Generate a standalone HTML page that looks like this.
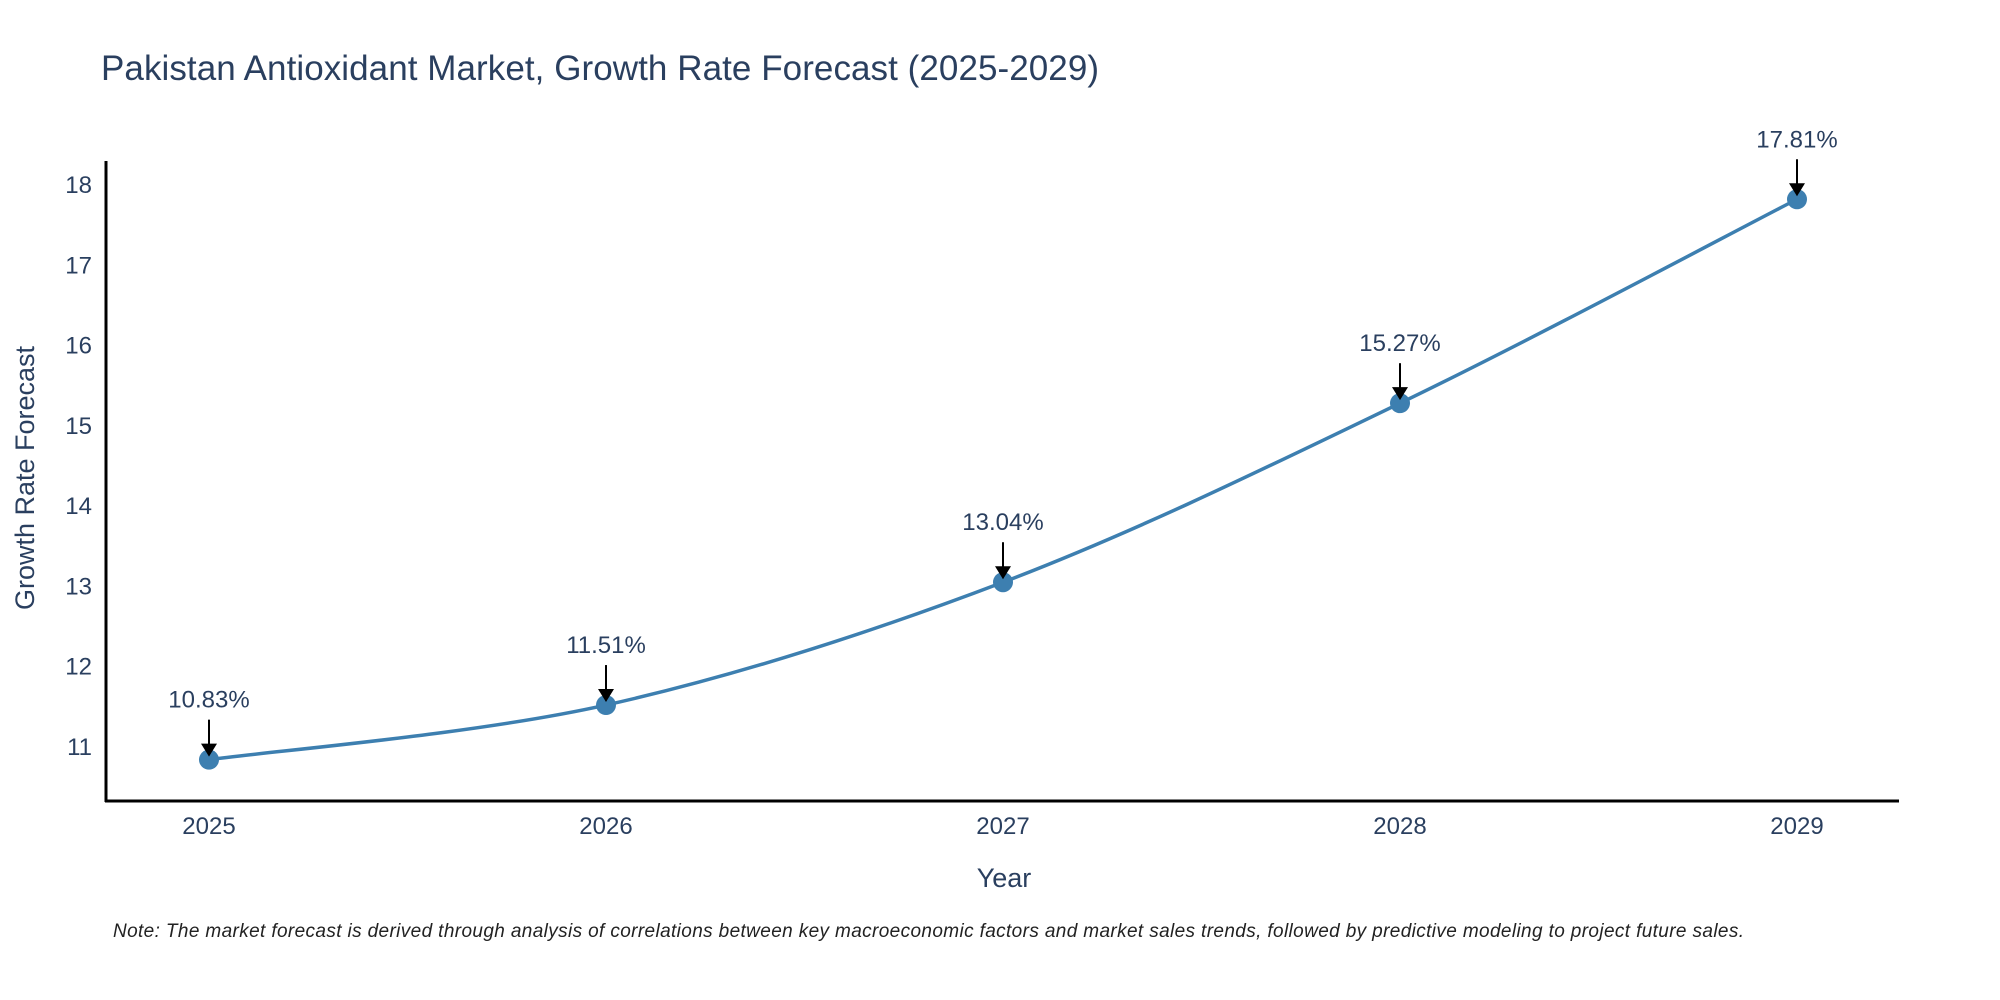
<!DOCTYPE html>
<html><head><meta charset="utf-8"><style>
body{margin:0;background:#fff;}
svg{display:block;font-family:"Liberation Sans",sans-serif;}
</style></head><body>
<svg id="chart" width="2000" height="1000" viewBox="0 0 2000 1000">
<text x="101" y="80" font-size="35" fill="#2a3f5f" textLength="998">Pakistan Antioxidant Market, Growth Rate Forecast (2025-2029)</text>
<g id="yticks"></g>
<g id="xticks"></g>
<path id="line" fill="none" stroke="#3d7fb0" stroke-width="3.5"></path>
<g id="points"></g>
<line x1="106" y1="161" x2="106" y2="802" stroke="#000" stroke-width="3"/>
<line x1="105" y1="801" x2="1899" y2="801" stroke="#000" stroke-width="3"/>
<text transform="translate(34,478) rotate(-90)" text-anchor="middle" font-size="27" fill="#2a3f5f">Growth Rate Forecast</text>
<text x="1004" y="887" text-anchor="middle" font-size="27" fill="#2a3f5f">Year</text>
<text x="113" y="937" font-size="19" font-style="italic" fill="#222" textLength="1631">Note: The market forecast is derived through analysis of correlations between key macroeconomic factors and market sales trends, followed by predictive modeling to project future sales.</text>
</svg>
<script>
const years = [2025, 2026, 2027, 2028, 2029];
const values = [10.83, 11.51, 13.04, 15.27, 17.81];
const labels = ["10.83%", "11.51%", "13.04%", "15.27%", "17.81%"];
const yTicks = [11, 12, 13, 14, 15, 16, 17, 18];
const NS = "http://www.w3.org/2000/svg";
function xs(v){ return 209 + (v - 2025) * (1797 - 209) / 4; }
function ys(v){ return 746 - (v - 11) * (746 - 184) / 7; }
function mk(tag, attrs, parent, text){
  const e = document.createElementNS(NS, tag);
  for (const k in attrs) e.setAttribute(k, attrs[k]);
  if (text !== undefined) e.textContent = text;
  parent.appendChild(e); return e;
}
const yg = document.getElementById('yticks');
yTicks.forEach(t => {
  const e = mk('text', {x: 92, y: ys(t) + 9, 'text-anchor': 'end', 'font-size': 24, fill: '#2a3f5f'}, yg, String(t));
  
  
});
const xg = document.getElementById('xticks');
years.forEach(t => {
  const e = mk('text', {x: xs(t), y: 834, 'text-anchor': 'middle', 'font-size': 24, fill: '#2a3f5f'}, xg, String(t));
  
  
});
const pts = years.map((y, i) => [xs(y), ys(values[i])]);
let d = 'M' + pts[0][0] + ',' + pts[0][1];
for (let i = 0; i < pts.length - 1; i++) {
  const p0 = pts[Math.max(0, i - 1)], p1 = pts[i], p2 = pts[i + 1], p3 = pts[Math.min(pts.length - 1, i + 2)];
  const c1 = [p1[0] + (p2[0] - p0[0]) / 6, p1[1] + (p2[1] - p0[1]) / 6];
  const c2 = [p2[0] - (p3[0] - p1[0]) / 6, p2[1] - (p3[1] - p1[1]) / 6];
  d += ' C' + c1 + ' ' + c2 + ' ' + p2;
}
document.getElementById('line').setAttribute('d', d);
const pg = document.getElementById('points');
pts.forEach((p, i) => {
  const c = mk('circle', {cx: p[0], cy: p[1], r: 10, fill: '#3d7fb0'}, pg);
  
  
  const l = mk('line', {x1: p[0], y1: p[1] - 40, x2: p[0], y2: p[1] - 14, stroke: '#000', 'stroke-width': 2}, pg);
  
  
  const h = mk('polygon', {points: (p[0]-8)+','+(p[1]-16)+' '+(p[0]+8)+','+(p[1]-16)+' '+p[0]+','+(p[1]-3), fill: '#000'}, pg);
  
  
  const t = mk('text', {x: p[0], y: p[1] - 52, 'text-anchor': 'middle', 'font-size': 24, fill: '#2a3f5f'}, pg, labels[i]);
  
  
});
</script>
</body></html>
